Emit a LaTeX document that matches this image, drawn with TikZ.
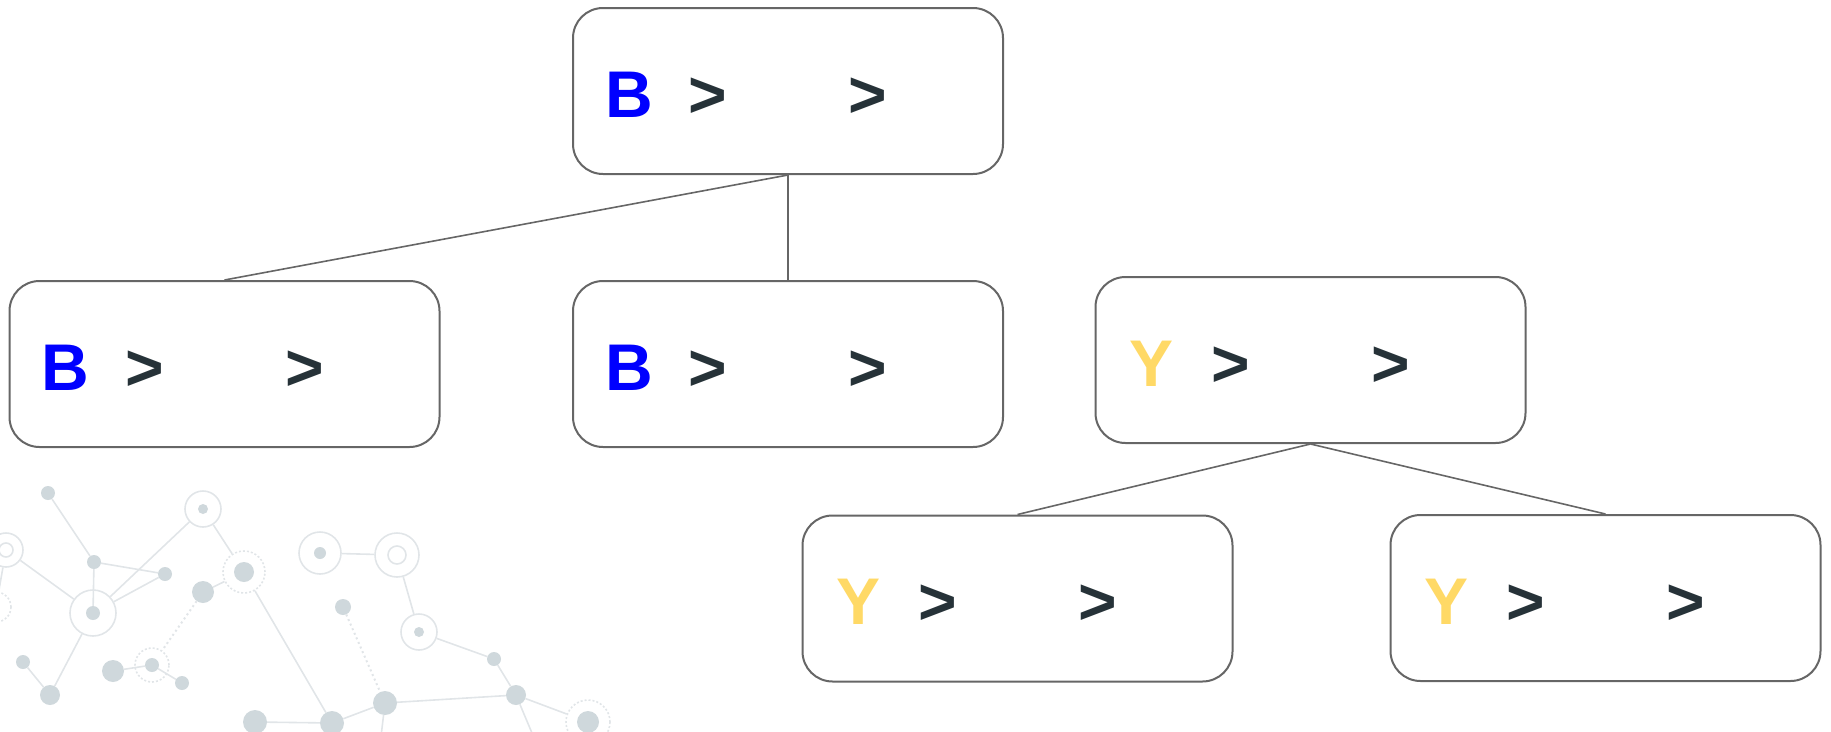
\documentclass[tikz,border=0pt]{standalone}
\usepackage{fontspec}
\setmainfont{Liberation Sans}
\usetikzlibrary{calc}

\definecolor{boxline}{HTML}{666666}
\definecolor{glyphdark}{HTML}{263238}
\definecolor{keyblue}{HTML}{0000FF}
\definecolor{keyyellow}{HTML}{FFD966}
\definecolor{netfill}{HTML}{CFD8DC}
\definecolor{netline}{HTML}{E1E5E8}

\tikzset{
  treebox/.style={draw=boxline, line width=2pt, rounded corners=30pt,
    minimum width=430pt, minimum height=166pt, inner sep=0pt, fill=white},
  link/.style={draw=boxline, line width=1.6pt},
  glyph/.style={anchor=base, inner sep=0pt,
    font=\fontsize{66}{66}\selectfont\bfseries},
  netdot/.style={circle, fill=netfill, inner sep=0pt, minimum size=#1},
  netring/.style={circle, draw=netline, line width=1.6pt, inner sep=0pt, minimum size=#1},
  netdash/.style={circle, draw=netline, line width=1.6pt, dash pattern=on 2pt off 2pt,
    inner sep=0pt, minimum size=#1},
  netedge/.style={draw=netline, line width=1.6pt},
  netdots/.style={draw=netline, line width=2pt, dash pattern=on 2pt off 3pt},
}

% letter and the two chevrons of one box
\newcommand\boxglyphs[3]{%
  \node[glyph, text=#3] (#1-key) at ($(#1.center)+(-159,26)$) {#2};
  \node[glyph, text=glyphdark] (#1-gta) at ($(#1.center)+(-80,26)$) {>};
  \node[glyph, text=glyphdark] (#1-gtb) at ($(#1.center)+(80,26)$) {>};
}

\begin{document}
\begin{tikzpicture}[x=1pt, y=-1pt]
\useasboundingbox (0,0) rectangle (1831,731);

% ---- decorative network in the lower left ----
\begin{scope}
\clip (0,0) rectangle (1831,731);
\coordinate (offA) at (380,745);
\coordinate (offB) at (537,745);
% rings
\node[netring=36pt] (r1) at (203,509) {};
\node[netring=34pt] (r2) at (6,550) {};
\node[netring=46pt] (r3) at (93,613) {};
\node[netdash=30pt] (r4) at (-4,607) {};
\node[netdash=34pt] (r5) at (152,665) {};
\node[netdash=42pt] (r6) at (244,572) {};
\node[netring=42pt] (r7) at (320,553) {};
\node[netring=44pt] (r8) at (397,555) {};
\node[netring=36pt] (r9) at (419,632) {};
\node[netdash=44pt] (r10) at (588,722) {};
% ring centres
\node[netdot=10pt] (r1c) at (r1) {};
\node[netring=14pt] (r2c) at (r2) {};
\node[netdot=14pt] (r3c) at (r3) {};
\node[netdot=14pt] (r5c) at (r5) {};
\node[netdot=20pt] (r6c) at (r6) {};
\node[netdot=12pt] (r7c) at (r7) {};
\node[netring=18pt] (r8c) at (r8) {};
\node[netdot=10pt] (r9c) at (r9) {};
\node[netdot=22pt] (r10c) at (r10) {};
% plain dots
\node[netdot=14pt] (n1) at (48,493) {};
\node[netdot=14pt] (n2) at (94,562) {};
\node[netdot=14pt] (n3) at (165,574) {};
\node[netdot=22pt] (n4) at (203,592) {};
\node[netdot=14pt] (n5) at (23,662) {};
\node[netdot=20pt] (n6) at (50,695) {};
\node[netdot=22pt] (n7) at (113,671) {};
\node[netdot=14pt] (n8) at (182,683) {};
\node[netdot=16pt] (n9) at (343,607) {};
\node[netdot=14pt] (n10) at (494,659) {};
\node[netdot=20pt] (n11) at (516,695) {};
\node[netdot=24pt] (n12) at (385,703) {};
\node[netdot=24pt] (n13) at (332,723) {};
\node[netdot=24pt] (n14) at (255,722) {};
% edges
\path[netedge] (n1) -- (n2);
\path[netedge] (n2) -- (n3);
\path[netedge] (n2) -- (r3c);
\path[netedge] (r2) -- (r3);
\path[netedge] (r2) -- (r4);
\path[netedge] (r3) -- (r1);
\path[netedge] (r3) -- (n3);
\path[netedge] (r3) -- (n6);
\path[netedge] (n5) -- (n6);
\path[netedge] (r1) -- (r6);
\path[netedge] (r6) -- (n4);
\path[netdots] (n4) -- (r5);
\path[netedge] (n7) -- (r5c);
\path[netedge] (r5c) -- (n8);
\path[netedge] (r6) -- (n13);
\path[netedge] (n14) -- (n13);
\path[netedge] (n13) -- (n12);
\path[netdots] (n9) -- (n12);
\path[netedge] (r7) -- (r8);
\path[netedge] (r8) -- (r9);
\path[netedge] (r9) -- (n10);
\path[netedge] (n10) -- (n11);
\path[netedge] (n12) -- (n11);
\path[netedge] (n11) -- (r10);
\path[netedge] (n11) -- (offB);
\path[netedge] (n12) -- (offA);
\end{scope}

% ---- tree of boxes ----
\node[treebox] (top) at (788,91) {};
\node[treebox] (left) at (224.5,364) {};
\node[treebox] (mid) at (788,364) {};
\node[treebox] (right) at (1310.5,360) {};
\node[treebox] (rl) at (1017.5,598.5) {};
\node[treebox] (rr) at (1605.5,598) {};

\path[link] (top.south) -- (left.north);
\path[link] (top.south) -- (mid.north);
\path[link] (right.south) -- (rl.north);
\path[link] (right.south) -- (rr.north);

\boxglyphs{top}{B}{keyblue}
\boxglyphs{left}{B}{keyblue}
\boxglyphs{mid}{B}{keyblue}
\boxglyphs{right}{Y}{keyyellow}
\boxglyphs{rl}{Y}{keyyellow}
\boxglyphs{rr}{Y}{keyyellow}
\end{tikzpicture}
\end{document}
